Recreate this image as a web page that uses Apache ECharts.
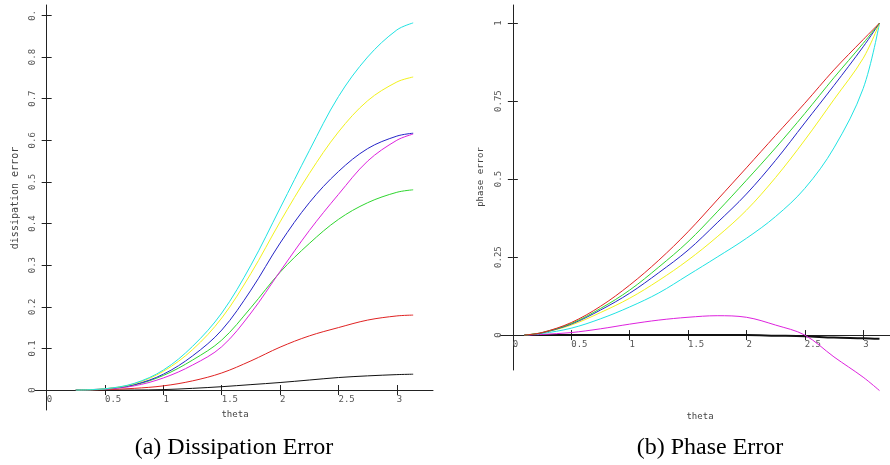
<!DOCTYPE html>
<html>
<head>
<meta charset="utf-8">
<script src="https://cdn.jsdelivr.net/npm/echarts@6/dist/echarts.min.js"></script>
<style>html,body{margin:0;padding:0;background:#fff}#c{width:890px;height:465px}</style>
</head>
<body>
<div id="c"></div>
<script>
// ---- data: (a) Dissipation Error ----
const thetaA = [0.25, 0.5, 0.75, 1.0, 1.25, 1.5, 1.75, 2.0, 2.25, 2.5, 2.75, 3.0, 3.14];
const dissCyan    = [0, 0.003, 0.016, 0.048, 0.105, 0.185, 0.300, 0.437, 0.575, 0.705, 0.800, 0.865, 0.882];
const dissYellow  = [0, 0.003, 0.015, 0.045, 0.097, 0.173, 0.280, 0.404, 0.520, 0.620, 0.695, 0.740, 0.752];
const dissBlue    = [0, 0.003, 0.013, 0.038, 0.082, 0.144, 0.240, 0.353, 0.450, 0.525, 0.580, 0.610, 0.617];
const dissMagenta = [0, 0.002, 0.010, 0.029, 0.060, 0.104, 0.185, 0.285, 0.383, 0.470, 0.550, 0.600, 0.615];
const dissGreen   = [0, 0.002, 0.012, 0.035, 0.072, 0.120, 0.198, 0.283, 0.352, 0.410, 0.450, 0.475, 0.481];
const dissRed     = [0, 0.001, 0.004, 0.010, 0.022, 0.041, 0.070, 0.103, 0.130, 0.150, 0.168, 0.178, 0.180];
const dissBlack   = [0, 0, 0, 0.001, 0.004, 0.008, 0.013, 0.018, 0.024, 0.030, 0.034, 0.037, 0.038];

// ---- data: (b) Phase Error ----
const thetaB = [0.1, 0.25, 0.5, 0.75, 1.0, 1.25, 1.5, 1.75, 2.0, 2.25, 2.5, 2.75, 3.0, 3.14];
const phaseRed     = [0, 0.008, 0.040, 0.092, 0.160, 0.240, 0.331, 0.433, 0.536, 0.640, 0.743, 0.850, 0.947, 1.0];
const phaseGreen   = [0, 0.008, 0.037, 0.085, 0.144, 0.218, 0.299, 0.395, 0.496, 0.600, 0.710, 0.825, 0.935, 1.0];
const phaseBlue    = [0, 0.007, 0.035, 0.080, 0.134, 0.200, 0.272, 0.360, 0.452, 0.560, 0.680, 0.800, 0.924, 1.0];
const phaseYellow  = [0, 0.007, 0.032, 0.072, 0.118, 0.175, 0.240, 0.315, 0.400, 0.505, 0.625, 0.755, 0.887, 1.0];
const phaseCyan    = [0, 0.005, 0.022, 0.052, 0.090, 0.135, 0.192, 0.250, 0.310, 0.380, 0.470, 0.600, 0.790, 1.0];
const phaseMagenta = [0, 0.002, 0.008, 0.020, 0.035, 0.048, 0.057, 0.062, 0.057, 0.032, 0.0, -0.070, -0.135, -0.178];
const phaseBlack   = [0, 0, 0, 0, 0, 0, 0, 0, 0, -0.002, -0.004, -0.008, -0.010, -0.012];

// ---- ticks ----
const xTicks = [0, 0.5, 1, 1.5, 2, 2.5, 3];
const xTickLabels = ['0', '0.5', '1', '1.5', '2', '2.5', '3'];
const yTicksA = [0, 0.1, 0.2, 0.3, 0.4, 0.5, 0.6, 0.7, 0.8, 0.9];
const yTickLabelsA = ['0', '0.1', '0.2', '0.3', '0.4', '0.5', '0.6', '0.7', '0.8', '0.'];
const yTicksB = [0, 0.25, 0.5, 0.75, 1];
const yTickLabelsB = ['0', '0.25', '0.5', '0.75', '1'];

// ---- text ----
const titleA = '(a) Dissipation Error';
const titleB = '(b) Phase Error';
const xNameA = 'theta', yNameA = 'dissipation error';
const xNameB = 'theta', yNameB = 'phase error';

const COL = {cyan:'#1fe3e3', yellow:'#f2f21c', blue:'#2424c8', magenta:'#de22de', green:'#2fd62f', red:'#e02222', black:'#111111'};
const monoFont = 'DejaVu Sans Mono';
const axisColor = '#222';
const labelColor = '#555';

// grid boxes and axis ranges
const G = [
  {left:35, top:5, width:398, height:405, xmin:-0.1, xmax:3.31, ymin:-0.048, ymax:0.925},
  {left:500, top:5, width:390, height:365, xmin:-0.11, xmax:3.23, ymin:-0.112, ymax:1.058}
];
// offsets that put each axis line at the other axis' zero
function xOff(g) { return -(g.height * (0 - g.ymin) / (g.ymax - g.ymin)); }
function yOff(g) { return -(g.width * (0 - g.xmin) / (g.xmax - g.xmin)); }

function pairs(xs, ys) { return xs.map((x, i) => [x, ys[i]]); }
function lookup(ticks, labels) { return v => { const i = ticks.findIndex(t => Math.abs(t - v) < 1e-9); return i >= 0 ? labels[i] : ''; }; }

function xAxes(gi) {
  const g = G[gi], off = xOff(g);
  return [
    { type:'value', gridIndex:gi, min:g.xmin, max:g.xmax, position:'bottom', offset:off,
      axisLine:{show:true, onZero:false, lineStyle:{color:axisColor, width:1}},
      axisTick:{show:true, length:5, customValues:xTicks, lineStyle:{color:axisColor}},
      axisLabel:{show:true, customValues:xTicks, formatter:lookup(xTicks, xTickLabels), align:'left', margin:5,
                 fontFamily:monoFont, fontSize:9, color:labelColor},
      splitLine:{show:false} },
    { type:'value', gridIndex:gi, min:g.xmin, max:g.xmax, position:'bottom', offset:off,
      axisLine:{show:false, onZero:false},
      axisTick:{show:true, inside:true, length:5, customValues:xTicks, lineStyle:{color:axisColor}},
      axisLabel:{show:false}, splitLine:{show:false} }
  ];
}
function yAxes(gi, ticks, labels) {
  const g = G[gi], off = yOff(g);
  return [
    { type:'value', gridIndex:gi, min:g.ymin, max:g.ymax, position:'left', offset:off,
      axisLine:{show:true, onZero:false, lineStyle:{color:axisColor, width:1}},
      axisTick:{show:true, length:5, customValues:ticks, lineStyle:{color:axisColor}},
      axisLabel:{show:true, customValues:ticks, formatter:lookup(ticks, labels), rotate:90, margin:10,
                 fontFamily:monoFont, fontSize:9, color:labelColor},
      splitLine:{show:false} },
    { type:'value', gridIndex:gi, min:g.ymin, max:g.ymax, position:'left', offset:off,
      axisLine:{show:false, onZero:false},
      axisTick:{show:true, inside:true, length:5, customValues:ticks, lineStyle:{color:axisColor}},
      axisLabel:{show:false}, splitLine:{show:false} }
  ];
}
function line(name, xs, ys, color, xi, yi, w) {
  return { name:name, type:'line', xAxisIndex:xi, yAxisIndex:yi, data:pairs(xs, ys),
           showSymbol:false, symbol:'none', smooth:0.35, silent:true, clip:false,
           lineStyle:{color:color, width:w || 1}, z:3 };
}

const chart = echarts.init(document.getElementById('c'), null, {renderer:'canvas'});
chart.setOption({
  animation:false,
  backgroundColor:'#ffffff',
  grid:G.map(g => ({left:g.left, top:g.top, width:g.width, height:g.height})),
  xAxis:[...xAxes(0), ...xAxes(1)],
  yAxis:[...yAxes(0, yTicksA, yTickLabelsA), ...yAxes(1, yTicksB, yTickLabelsB)],
  series:[
    line('black', thetaA, dissBlack, COL.black, 0, 0),
    line('red', thetaA, dissRed, COL.red, 0, 0),
    line('green', thetaA, dissGreen, COL.green, 0, 0),
    line('magenta', thetaA, dissMagenta, COL.magenta, 0, 0),
    line('blue', thetaA, dissBlue, COL.blue, 0, 0),
    line('yellow', thetaA, dissYellow, COL.yellow, 0, 0),
    line('cyan', thetaA, dissCyan, COL.cyan, 0, 0),
    line('black', thetaB, phaseBlack, COL.black, 2, 2, 2),
    line('magenta', thetaB, phaseMagenta, COL.magenta, 2, 2),
    line('cyan', thetaB, phaseCyan, COL.cyan, 2, 2),
    line('yellow', thetaB, phaseYellow, COL.yellow, 2, 2),
    line('blue', thetaB, phaseBlue, COL.blue, 2, 2),
    line('green', thetaB, phaseGreen, COL.green, 2, 2),
    line('red', thetaB, phaseRed, COL.red, 2, 2)
  ],
  graphic:[
    {type:'text', x:15, y:198, rotation:Math.PI/2, silent:true,
     style:{text:yNameA, fontFamily:monoFont, fontSize:10, fill:'#444', align:'center', verticalAlign:'middle'}},
    {type:'text', x:235, y:415, silent:true,
     style:{text:xNameA, fontFamily:monoFont, fontSize:9, fill:'#444', align:'center', verticalAlign:'middle'}},
    {type:'text', x:481, y:177, rotation:Math.PI/2, silent:true,
     style:{text:yNameB, fontFamily:monoFont, fontSize:9, fill:'#444', align:'center', verticalAlign:'middle'}},
    {type:'text', x:700, y:417, silent:true,
     style:{text:xNameB, fontFamily:monoFont, fontSize:9, fill:'#444', align:'center', verticalAlign:'middle'}},
    {type:'text', x:234, y:448, silent:true,
     style:{text:titleA, fontFamily:'Liberation Serif', fontSize:24, fill:'#000', align:'center', verticalAlign:'middle'}},
    {type:'text', x:710, y:448, silent:true,
     style:{text:titleB, fontFamily:'Liberation Serif', fontSize:24, fill:'#000', align:'center', verticalAlign:'middle'}}
  ]
});
</script>
</body>
</html>
